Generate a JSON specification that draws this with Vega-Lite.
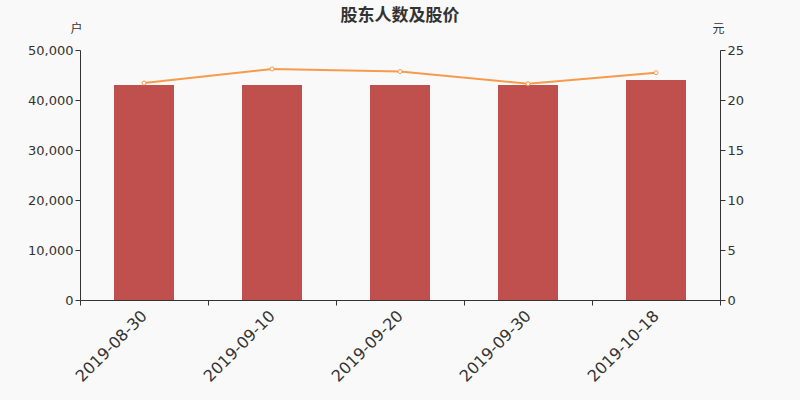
{
  "$schema": "https://vega.github.io/schema/vega-lite/v6.json",
  "width": 640,
  "height": 250,
  "autosize": {"type": "none"},
  "padding": {"left": 80, "top": 50, "right": 80, "bottom": 100},
  "background": "#f9f9f9",
  "title": {
    "text": "股东人数及股价",
    "font": "Noto Sans CJK SC",
    "fontSize": 17,
    "fontWeight": "bold",
    "color": "#333333",
    "anchor": "middle",
    "offset": -3
  },
  "config": {
    "view": {"stroke": null},
    "axis": {
      "labelFont": "DejaVu Sans",
      "labelColor": "#333333",
      "labelFontSize": 13,
      "domainColor": "#333333",
      "tickColor": "#333333",
      "grid": false,
      "titleFont": "Noto Sans CJK SC",
      "titleFontWeight": "normal",
      "titleFontSize": 12,
      "titleColor": "#333333"
    }
  },
  "data": {
    "values": [
      {"date": "2019-08-30", "holders": 43000, "price": 21.7},
      {"date": "2019-09-10", "holders": 43000, "price": 23.1},
      {"date": "2019-09-20", "holders": 43000, "price": 22.85},
      {"date": "2019-09-30", "holders": 43000, "price": 21.63},
      {"date": "2019-10-18", "holders": 44000, "price": 22.73}
    ]
  },
  "encoding": {
    "x": {
      "field": "date",
      "type": "ordinal",
      "title": null,
      "scale": {"paddingInner": 0, "paddingOuter": 0},
      "axis": {
        "labelAngle": -45,
        "labelAlign": "right",
        "labelBaseline": "middle",
        "labelFontSize": 16,
        "tickBand": "extent",
        "tickSize": 5,
        "labelPadding": 8
      }
    }
  },
  "layer": [
    {
      "mark": {"type": "bar", "color": "#c0504d", "width": 60},
      "encoding": {
        "y": {
          "field": "holders",
          "type": "quantitative",
          "scale": {"domain": [0, 50000]},
          "axis": {
            "values": [0, 10000, 20000, 30000, 40000, 50000],
            "format": ",d",
            "title": "户",
            "titleAngle": 0,
            "titleX": -4,
            "titleY": -22,
            "titleAlign": "center",
            "titleBaseline": "middle"
          }
        }
      }
    },
    {
      "mark": {
        "type": "line",
        "color": "#f79a4b",
        "strokeWidth": 2,
        "point": {"filled": true, "fill": "#ffffff", "stroke": "#f79a4b", "strokeWidth": 1, "size": 16}
      },
      "encoding": {
        "y": {
          "field": "price",
          "type": "quantitative",
          "scale": {"domain": [0, 25]},
          "axis": {
            "orient": "right",
            "values": [0, 5, 10, 15, 20, 25],
            "title": "元",
            "titleAngle": 0,
            "titleX": -2,
            "titleY": -22,
            "titleAlign": "center",
            "titleBaseline": "middle"
          }
        }
      }
    }
  ],
  "resolve": {"scale": {"y": "independent"}}
}
